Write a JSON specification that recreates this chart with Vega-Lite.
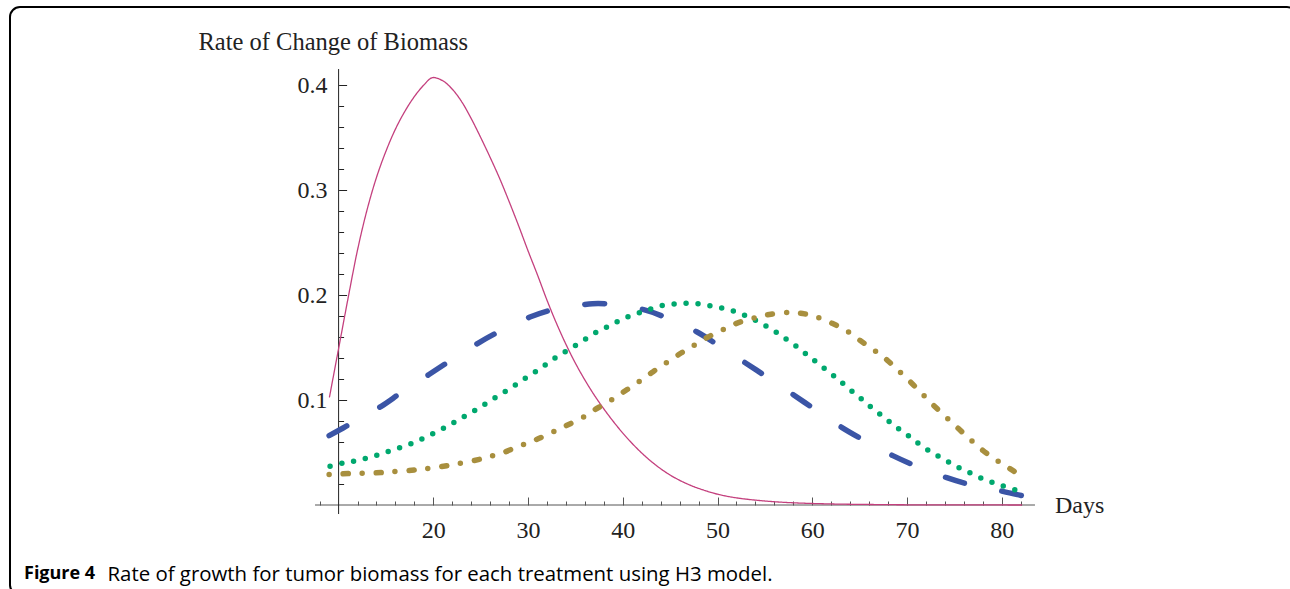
{
  "$schema": "https://vega.github.io/schema/vega-lite/v6.json",
  "width": 1287,
  "height": 588,
  "autosize": {"type": "none"},
  "padding": {"left": 10, "top": 7, "right": 0, "bottom": 0},
  "background": "white",
  "config": {
    "view": {"stroke": "#000000", "strokeWidth": 2, "cornerRadius": 10, "fill": "white"}
  },
  "title": {
    "text": "Figure 4",
    "orient": "bottom",
    "anchor": "start",
    "frame": "group",
    "offset": -16,
    "dx": 14,
    "baseline": "alphabetic",
    "font": "Open Sans",
    "fontSize": 18,
    "fontWeight": "bold",
    "color": "#000000"
  },
  "datasets": {
    "curves": [
      {"treatment": "Treatment 1", "day": 9.04, "rate": 0.103},
      {"treatment": "Treatment 1", "day": 10, "rate": 0.149},
      {"treatment": "Treatment 1", "day": 11, "rate": 0.197},
      {"treatment": "Treatment 1", "day": 12, "rate": 0.243},
      {"treatment": "Treatment 1", "day": 13, "rate": 0.281},
      {"treatment": "Treatment 1", "day": 14, "rate": 0.312},
      {"treatment": "Treatment 1", "day": 15, "rate": 0.337},
      {"treatment": "Treatment 1", "day": 16, "rate": 0.358},
      {"treatment": "Treatment 1", "day": 17, "rate": 0.375},
      {"treatment": "Treatment 1", "day": 18, "rate": 0.389},
      {"treatment": "Treatment 1", "day": 19, "rate": 0.400},
      {"treatment": "Treatment 1", "day": 19.9, "rate": 0.407},
      {"treatment": "Treatment 1", "day": 21, "rate": 0.404},
      {"treatment": "Treatment 1", "day": 22, "rate": 0.396},
      {"treatment": "Treatment 1", "day": 23, "rate": 0.384},
      {"treatment": "Treatment 1", "day": 24, "rate": 0.368},
      {"treatment": "Treatment 1", "day": 25, "rate": 0.350},
      {"treatment": "Treatment 1", "day": 26, "rate": 0.331},
      {"treatment": "Treatment 1", "day": 27, "rate": 0.311},
      {"treatment": "Treatment 1", "day": 28, "rate": 0.289},
      {"treatment": "Treatment 1", "day": 29, "rate": 0.266},
      {"treatment": "Treatment 1", "day": 30, "rate": 0.242},
      {"treatment": "Treatment 1", "day": 31, "rate": 0.219},
      {"treatment": "Treatment 1", "day": 32, "rate": 0.195},
      {"treatment": "Treatment 1", "day": 33, "rate": 0.173},
      {"treatment": "Treatment 1", "day": 34, "rate": 0.153},
      {"treatment": "Treatment 1", "day": 35, "rate": 0.135},
      {"treatment": "Treatment 1", "day": 36, "rate": 0.119},
      {"treatment": "Treatment 1", "day": 37, "rate": 0.1045},
      {"treatment": "Treatment 1", "day": 38, "rate": 0.0915},
      {"treatment": "Treatment 1", "day": 39, "rate": 0.0795},
      {"treatment": "Treatment 1", "day": 40, "rate": 0.0685},
      {"treatment": "Treatment 1", "day": 41, "rate": 0.0585},
      {"treatment": "Treatment 1", "day": 42, "rate": 0.0495},
      {"treatment": "Treatment 1", "day": 43, "rate": 0.0415},
      {"treatment": "Treatment 1", "day": 44, "rate": 0.0345},
      {"treatment": "Treatment 1", "day": 45, "rate": 0.0285},
      {"treatment": "Treatment 1", "day": 46, "rate": 0.0235},
      {"treatment": "Treatment 1", "day": 47, "rate": 0.0193},
      {"treatment": "Treatment 1", "day": 48, "rate": 0.0158},
      {"treatment": "Treatment 1", "day": 50, "rate": 0.0103},
      {"treatment": "Treatment 1", "day": 52, "rate": 0.0068},
      {"treatment": "Treatment 1", "day": 55, "rate": 0.0038},
      {"treatment": "Treatment 1", "day": 58, "rate": 0.0021},
      {"treatment": "Treatment 1", "day": 62, "rate": 0.0010},
      {"treatment": "Treatment 1", "day": 66, "rate": 0.0005},
      {"treatment": "Treatment 1", "day": 70, "rate": 0.0002},
      {"treatment": "Treatment 1", "day": 76, "rate": 0.0001},
      {"treatment": "Treatment 1", "day": 82.1, "rate": 0.0},
      {"treatment": "Treatment 2", "day": 9.0, "rate": 0.066},
      {"treatment": "Treatment 2", "day": 11.4, "rate": 0.078},
      {"treatment": "Treatment 2", "day": 14.5, "rate": 0.094},
      {"treatment": "Treatment 2", "day": 16.6, "rate": 0.107},
      {"treatment": "Treatment 2", "day": 19.5, "rate": 0.124},
      {"treatment": "Treatment 2", "day": 21.7, "rate": 0.137},
      {"treatment": "Treatment 2", "day": 24.7, "rate": 0.154},
      {"treatment": "Treatment 2", "day": 26.9, "rate": 0.165},
      {"treatment": "Treatment 2", "day": 30.2, "rate": 0.179},
      {"treatment": "Treatment 2", "day": 32.6, "rate": 0.186},
      {"treatment": "Treatment 2", "day": 36.0, "rate": 0.191},
      {"treatment": "Treatment 2", "day": 37.4, "rate": 0.192},
      {"treatment": "Treatment 2", "day": 38.7, "rate": 0.191},
      {"treatment": "Treatment 2", "day": 42.2, "rate": 0.186},
      {"treatment": "Treatment 2", "day": 44.7, "rate": 0.178},
      {"treatment": "Treatment 2", "day": 47.8, "rate": 0.165},
      {"treatment": "Treatment 2", "day": 50.1, "rate": 0.152},
      {"treatment": "Treatment 2", "day": 53.0, "rate": 0.135},
      {"treatment": "Treatment 2", "day": 55.2, "rate": 0.122},
      {"treatment": "Treatment 2", "day": 58.0, "rate": 0.105},
      {"treatment": "Treatment 2", "day": 60.3, "rate": 0.091},
      {"treatment": "Treatment 2", "day": 63.1, "rate": 0.074},
      {"treatment": "Treatment 2", "day": 65.6, "rate": 0.061},
      {"treatment": "Treatment 2", "day": 68.5, "rate": 0.047},
      {"treatment": "Treatment 2", "day": 71.0, "rate": 0.037},
      {"treatment": "Treatment 2", "day": 74.2, "rate": 0.026},
      {"treatment": "Treatment 2", "day": 76.8, "rate": 0.019},
      {"treatment": "Treatment 2", "day": 80.1, "rate": 0.013},
      {"treatment": "Treatment 2", "day": 82.1, "rate": 0.009},
      {"treatment": "Treatment 3", "day": 9.1, "rate": 0.037},
      {"treatment": "Treatment 3", "day": 10.5, "rate": 0.040},
      {"treatment": "Treatment 3", "day": 11.8, "rate": 0.042},
      {"treatment": "Treatment 3", "day": 13.1, "rate": 0.045},
      {"treatment": "Treatment 3", "day": 14.3, "rate": 0.048},
      {"treatment": "Treatment 3", "day": 15.6, "rate": 0.052},
      {"treatment": "Treatment 3", "day": 16.9, "rate": 0.056},
      {"treatment": "Treatment 3", "day": 18.1, "rate": 0.060},
      {"treatment": "Treatment 3", "day": 19.3, "rate": 0.065},
      {"treatment": "Treatment 3", "day": 20.6, "rate": 0.071},
      {"treatment": "Treatment 3", "day": 21.7, "rate": 0.076},
      {"treatment": "Treatment 3", "day": 22.8, "rate": 0.082},
      {"treatment": "Treatment 3", "day": 24.0, "rate": 0.088},
      {"treatment": "Treatment 3", "day": 25.1, "rate": 0.094},
      {"treatment": "Treatment 3", "day": 26.3, "rate": 0.101},
      {"treatment": "Treatment 3", "day": 27.4, "rate": 0.107},
      {"treatment": "Treatment 3", "day": 28.6, "rate": 0.114},
      {"treatment": "Treatment 3", "day": 29.6, "rate": 0.120},
      {"treatment": "Treatment 3", "day": 30.8, "rate": 0.127},
      {"treatment": "Treatment 3", "day": 31.9, "rate": 0.134},
      {"treatment": "Treatment 3", "day": 33.0, "rate": 0.141},
      {"treatment": "Treatment 3", "day": 34.1, "rate": 0.147},
      {"treatment": "Treatment 3", "day": 35.2, "rate": 0.153},
      {"treatment": "Treatment 3", "day": 36.4, "rate": 0.160},
      {"treatment": "Treatment 3", "day": 37.5, "rate": 0.166},
      {"treatment": "Treatment 3", "day": 38.7, "rate": 0.171},
      {"treatment": "Treatment 3", "day": 39.9, "rate": 0.177},
      {"treatment": "Treatment 3", "day": 41.1, "rate": 0.181},
      {"treatment": "Treatment 3", "day": 42.4, "rate": 0.185},
      {"treatment": "Treatment 3", "day": 43.7, "rate": 0.189},
      {"treatment": "Treatment 3", "day": 45.0, "rate": 0.191},
      {"treatment": "Treatment 3", "day": 46.3, "rate": 0.192},
      {"treatment": "Treatment 3", "day": 47.6, "rate": 0.192},
      {"treatment": "Treatment 3", "day": 49.0, "rate": 0.190},
      {"treatment": "Treatment 3", "day": 50.3, "rate": 0.188},
      {"treatment": "Treatment 3", "day": 51.6, "rate": 0.185},
      {"treatment": "Treatment 3", "day": 52.8, "rate": 0.181},
      {"treatment": "Treatment 3", "day": 54.0, "rate": 0.176},
      {"treatment": "Treatment 3", "day": 55.2, "rate": 0.170},
      {"treatment": "Treatment 3", "day": 56.3, "rate": 0.164},
      {"treatment": "Treatment 3", "day": 57.4, "rate": 0.157},
      {"treatment": "Treatment 3", "day": 58.5, "rate": 0.150},
      {"treatment": "Treatment 3", "day": 59.6, "rate": 0.142},
      {"treatment": "Treatment 3", "day": 60.6, "rate": 0.135},
      {"treatment": "Treatment 3", "day": 61.7, "rate": 0.127},
      {"treatment": "Treatment 3", "day": 62.7, "rate": 0.120},
      {"treatment": "Treatment 3", "day": 63.7, "rate": 0.112},
      {"treatment": "Treatment 3", "day": 64.8, "rate": 0.104},
      {"treatment": "Treatment 3", "day": 65.7, "rate": 0.097},
      {"treatment": "Treatment 3", "day": 66.8, "rate": 0.089},
      {"treatment": "Treatment 3", "day": 67.9, "rate": 0.081},
      {"treatment": "Treatment 3", "day": 68.9, "rate": 0.074},
      {"treatment": "Treatment 3", "day": 70.0, "rate": 0.067},
      {"treatment": "Treatment 3", "day": 71.0, "rate": 0.060},
      {"treatment": "Treatment 3", "day": 72.1, "rate": 0.053},
      {"treatment": "Treatment 3", "day": 73.2, "rate": 0.047},
      {"treatment": "Treatment 3", "day": 74.4, "rate": 0.041},
      {"treatment": "Treatment 3", "day": 75.6, "rate": 0.035},
      {"treatment": "Treatment 3", "day": 76.8, "rate": 0.030},
      {"treatment": "Treatment 3", "day": 78.0, "rate": 0.025},
      {"treatment": "Treatment 3", "day": 79.2, "rate": 0.021},
      {"treatment": "Treatment 3", "day": 80.5, "rate": 0.017},
      {"treatment": "Treatment 3", "day": 82.0, "rate": 0.013},
      {"treatment": "Treatment 4", "day": 9.0, "rate": 0.029},
      {"treatment": "Treatment 4", "day": 11.2, "rate": 0.030},
      {"treatment": "Treatment 4", "day": 13.0, "rate": 0.0303},
      {"treatment": "Treatment 4", "day": 14.8, "rate": 0.031},
      {"treatment": "Treatment 4", "day": 16.2, "rate": 0.032},
      {"treatment": "Treatment 4", "day": 18.3, "rate": 0.0335},
      {"treatment": "Treatment 4", "day": 19.6, "rate": 0.035},
      {"treatment": "Treatment 4", "day": 21.8, "rate": 0.038},
      {"treatment": "Treatment 4", "day": 23.0, "rate": 0.040},
      {"treatment": "Treatment 4", "day": 25.1, "rate": 0.044},
      {"treatment": "Treatment 4", "day": 26.3, "rate": 0.047},
      {"treatment": "Treatment 4", "day": 27.4, "rate": 0.050},
      {"treatment": "Treatment 4", "day": 28.5, "rate": 0.054},
      {"treatment": "Treatment 4", "day": 29.6, "rate": 0.058},
      {"treatment": "Treatment 4", "day": 30.8, "rate": 0.062},
      {"treatment": "Treatment 4", "day": 32.7, "rate": 0.070},
      {"treatment": "Treatment 4", "day": 33.9, "rate": 0.075},
      {"treatment": "Treatment 4", "day": 35.9, "rate": 0.084},
      {"treatment": "Treatment 4", "day": 37.1, "rate": 0.091},
      {"treatment": "Treatment 4", "day": 38.8, "rate": 0.100},
      {"treatment": "Treatment 4", "day": 40.3, "rate": 0.109},
      {"treatment": "Treatment 4", "day": 41.8, "rate": 0.118},
      {"treatment": "Treatment 4", "day": 43.2, "rate": 0.127},
      {"treatment": "Treatment 4", "day": 44.7, "rate": 0.136},
      {"treatment": "Treatment 4", "day": 46.2, "rate": 0.145},
      {"treatment": "Treatment 4", "day": 47.5, "rate": 0.152},
      {"treatment": "Treatment 4", "day": 49.0, "rate": 0.160},
      {"treatment": "Treatment 4", "day": 50.6, "rate": 0.167},
      {"treatment": "Treatment 4", "day": 52.0, "rate": 0.173},
      {"treatment": "Treatment 4", "day": 53.8, "rate": 0.178},
      {"treatment": "Treatment 4", "day": 55.2, "rate": 0.181},
      {"treatment": "Treatment 4", "day": 57.5, "rate": 0.1835},
      {"treatment": "Treatment 4", "day": 59.2, "rate": 0.182},
      {"treatment": "Treatment 4", "day": 60.5, "rate": 0.179},
      {"treatment": "Treatment 4", "day": 62.1, "rate": 0.173},
      {"treatment": "Treatment 4", "day": 63.6, "rate": 0.166},
      {"treatment": "Treatment 4", "day": 65.0, "rate": 0.157},
      {"treatment": "Treatment 4", "day": 66.6, "rate": 0.147},
      {"treatment": "Treatment 4", "day": 67.9, "rate": 0.138},
      {"treatment": "Treatment 4", "day": 69.1, "rate": 0.128},
      {"treatment": "Treatment 4", "day": 70.5, "rate": 0.116},
      {"treatment": "Treatment 4", "day": 71.7, "rate": 0.105},
      {"treatment": "Treatment 4", "day": 72.8, "rate": 0.095},
      {"treatment": "Treatment 4", "day": 74.2, "rate": 0.083},
      {"treatment": "Treatment 4", "day": 75.4, "rate": 0.073},
      {"treatment": "Treatment 4", "day": 76.6, "rate": 0.063},
      {"treatment": "Treatment 4", "day": 78.0, "rate": 0.052},
      {"treatment": "Treatment 4", "day": 79.4, "rate": 0.043},
      {"treatment": "Treatment 4", "day": 80.8, "rate": 0.035},
      {"treatment": "Treatment 4", "day": 82.0, "rate": 0.028}
    ]
  },
  "layer": [
    {
      "data": {"values": [{}]},
      "mark": {"type": "rule", "color": "#555555", "strokeWidth": 1},
      "encoding": {
        "x": {"datum": 7.51, "type": "quantitative"},
        "x2": {"datum": 83.51},
        "y": {"datum": 0, "type": "quantitative"}
      }
    },
    {
      "data": {"values": [{}]},
      "mark": {"type": "rule", "color": "#222222", "strokeWidth": 1},
      "encoding": {
        "x": {"datum": 10, "type": "quantitative"},
        "y": {"datum": -0.0086, "type": "quantitative"},
        "y2": {"datum": 0.4152}
      }
    },
    {
      "data": {"name": "curves"},
      "mark": {"type": "line", "strokeCap": "round", "interpolate": "catmull-rom"},
      "encoding": {
        "x": {
          "field": "day",
          "type": "quantitative",
          "scale": {"domain": [-24.688, 111.17], "nice": false, "zero": false},
          "axis": {
            "orient": "bottom",
            "offset": -90,
            "domain": false,
            "grid": false,
            "tickCount": 100,
            "values": [8, 12, 14, 16, 18, 20, 22, 24, 26, 28, 30, 32, 34, 36, 38, 40, 42, 44, 46, 48, 50, 52, 54, 56, 58, 60, 62, 64, 66, 68, 70, 72, 74, 76, 78, 80, 82],
            "tickSize": {"condition": {"test": "datum.value % 10 === 0", "value": -8}, "value": -4},
            "tickColor": "#555555",
            "tickWidth": 1,
            "labelExpr": "datum.value % 10 === 0 ? datum.label : ''",
            "labelFont": "Liberation Serif",
            "labelFontSize": 24,
            "labelColor": "#222222",
            "labelPadding": 21,
            "labelBaseline": "top",
            "labelFlush": false,
            "labelOverlap": false,
            "title": "Rate of growth for tumor biomass for each treatment using H3 model.",
            "titleX": 97,
            "titleY": 75,
            "titleAlign": "left",
            "titleAnchor": "start",
            "titleBaseline": "alphabetic",
            "titleFont": "Open Sans",
            "titleFontSize": 20.4,
            "titleFontWeight": "normal",
            "titleColor": "#000000"
          }
        },
        "y": {
          "field": "rate",
          "type": "quantitative",
          "scale": {"domain": [-0.085714, 0.474286], "nice": false, "zero": false},
          "axis": {
            "orient": "left",
            "offset": -328.6,
            "domain": false,
            "grid": false,
            "tickCount": 100,
            "values": [0.02, 0.04, 0.06, 0.08, 0.1, 0.12, 0.14, 0.16, 0.18, 0.2, 0.22, 0.24, 0.26, 0.28, 0.3, 0.32, 0.34, 0.36, 0.38, 0.4],
            "tickSize": {"condition": {"test": "abs(datum.value * 10 - round(datum.value * 10)) < 0.000001", "value": -8}, "value": -5},
            "tickColor": "#222222",
            "tickWidth": 1,
            "labelExpr": "abs(datum.value * 10 - round(datum.value * 10)) < 0.000001 ? format(datum.value, '.1f') : ''",
            "labelFont": "Liberation Serif",
            "labelFontSize": 24,
            "labelColor": "#222222",
            "labelPadding": 19.6,
            "labelAlign": "right",
            "labelBaseline": "middle",
            "labelFlush": false,
            "labelOverlap": false,
            "title": "Rate of Change of Biomass",
            "titleAngle": 0,
            "titleX": -140.6,
            "titleY": 42,
            "titleAlign": "left",
            "titleAnchor": "start",
            "titleBaseline": "alphabetic",
            "titleFont": "Liberation Serif",
            "titleFontSize": 24.5,
            "titleFontWeight": "normal",
            "titleColor": "#222222"
          }
        },
        "color": {
          "field": "treatment",
          "type": "nominal",
          "scale": {"domain": ["Treatment 1", "Treatment 2", "Treatment 3", "Treatment 4"], "range": ["#c4407e", "#3b55a6", "#00a86e", "#a88f3e"]},
          "legend": null
        },
        "strokeDash": {
          "field": "treatment",
          "type": "nominal",
          "scale": {"domain": ["Treatment 1", "Treatment 2", "Treatment 3", "Treatment 4"], "range": [[1, 0], [20, 38], [0, 12], [0, 14, 5, 14]]},
          "legend": null
        },
        "strokeWidth": {
          "field": "treatment",
          "type": "nominal",
          "scale": {"type": "ordinal", "domain": ["Treatment 1", "Treatment 2", "Treatment 3", "Treatment 4"], "range": [1.3, 5.5, 5.5, 5.5]},
          "legend": null
        }
      }
    },
    {
      "data": {"values": [{}]},
      "mark": {"type": "text", "text": "Days", "align": "left", "baseline": "alphabetic", "dx": 20, "dy": 8, "font": "Liberation Serif", "fontSize": 24, "color": "#222222"},
      "encoding": {
        "x": {"datum": 83.51, "type": "quantitative"},
        "y": {"datum": 0, "type": "quantitative"}
      }
    }
  ]
}
